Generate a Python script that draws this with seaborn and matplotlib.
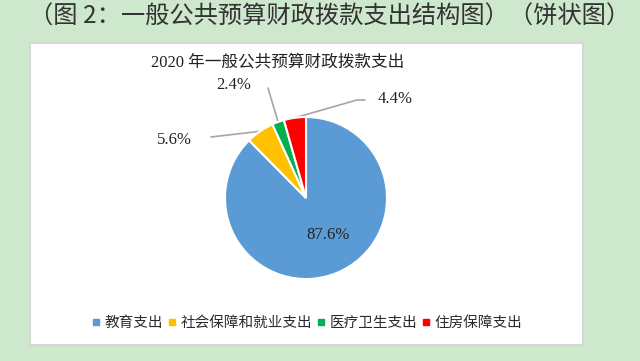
import matplotlib
matplotlib.use("Agg")
import matplotlib.pyplot as plt
import seaborn as sns
import numpy as np
from matplotlib.patches import Rectangle
from matplotlib.lines import Line2D

categories = ["教育支出", "社会保障和就业支出", "医疗卫生支出", "住房保障支出"]
values = [87.6, 5.6, 2.4, 4.4]
labels = ["87.6%", "5.6%", "2.4%", "4.4%"]
colors = ["#5B9BD5", "#FFC000", "#00B050", "#FF0000"]

main_title = "（图 2：一般公共预算财政拨款支出结构图）（饼状图）"
chart_title = "2020 年一般公共预算财政拨款支出"

sns.set_theme(style="white")
plt.rcParams["font.family"] = ["Noto Sans CJK SC", "DejaVu Sans"]

W, H = 640, 361
fig = plt.figure(figsize=(W / 100, H / 100), dpi=100)
fig.patch.set_facecolor("#CEE8CD")

fig.text(330 / W, 1 - 17 / H, main_title, ha="center", va="center",
         fontsize=17.5, color="#333333")

ax = fig.add_axes([0, 0, 1, 1])
ax.set_facecolor("none")
# white panel
ax.add_patch(Rectangle((30, H - 345), 583 - 30, 345 - 43, facecolor="white",
                       edgecolor="#D6D6D6", linewidth=1.5, zorder=0))

cx, cy, r = 306, H - 198, 81
pal = sns.color_palette(colors)
wedges, _ = ax.pie(values, colors=pal, startangle=90, counterclock=False,
                   center=(cx, cy), radius=r,
                   wedgeprops=dict(edgecolor="white", linewidth=1.5, zorder=2))
ax.set_xlim(0, W)
ax.set_ylim(0, H)
ax.set_aspect("auto")
ax.axis("off")

serif = ["Liberation Serif", "Noto Sans CJK SC"]
ax.text(278, H - 62, chart_title, ha="center", va="center", fontsize=12,
        family=serif, color="#222222", zorder=3)

# label positions (text anchor points) and leader line ends
label_pos = {1: (174, H - 140), 2: (234, H - 85), 3: (395, H - 99)}
leader_end = {1: [(211, H - 137)], 2: [(268, H - 88)], 3: [(357, H - 100), (365, H - 100)]}

for i, w in enumerate(wedges):
    theta = np.deg2rad((w.theta1 + w.theta2) / 2)
    if i == 0:
        ax.text(328, H - 235, labels[i], ha="center", va="center", fontsize=12,
                family=serif, color="#222222", zorder=3)
        continue
    sx, sy = cx + r * np.cos(theta), cy + r * np.sin(theta)
    pts = [(sx, sy)] + leader_end[i]
    xs, ys = zip(*pts)
    ax.add_line(Line2D(xs, ys, color="#A6A6A6", linewidth=1.2, zorder=1))
    ax.text(*label_pos[i], labels[i], ha="center", va="center", fontsize=12,
            family=serif, color="#222222", zorder=3)

handles = [Line2D([], [], marker="s", linestyle="none", markersize=5,
                  markerfacecolor=c, markeredgecolor=c) for c in pal]
leg = fig.legend(handles, categories, loc="center", bbox_to_anchor=(307 / W, 1 - 323 / H),
                 ncol=4, frameon=False, fontsize=10.5, handlelength=0.6,
                 handletextpad=0.3, columnspacing=0.3, labelcolor="#2B2B2B")
leg.set_zorder(5)

fig.savefig("out.png", dpi=100, facecolor=fig.get_facecolor())
